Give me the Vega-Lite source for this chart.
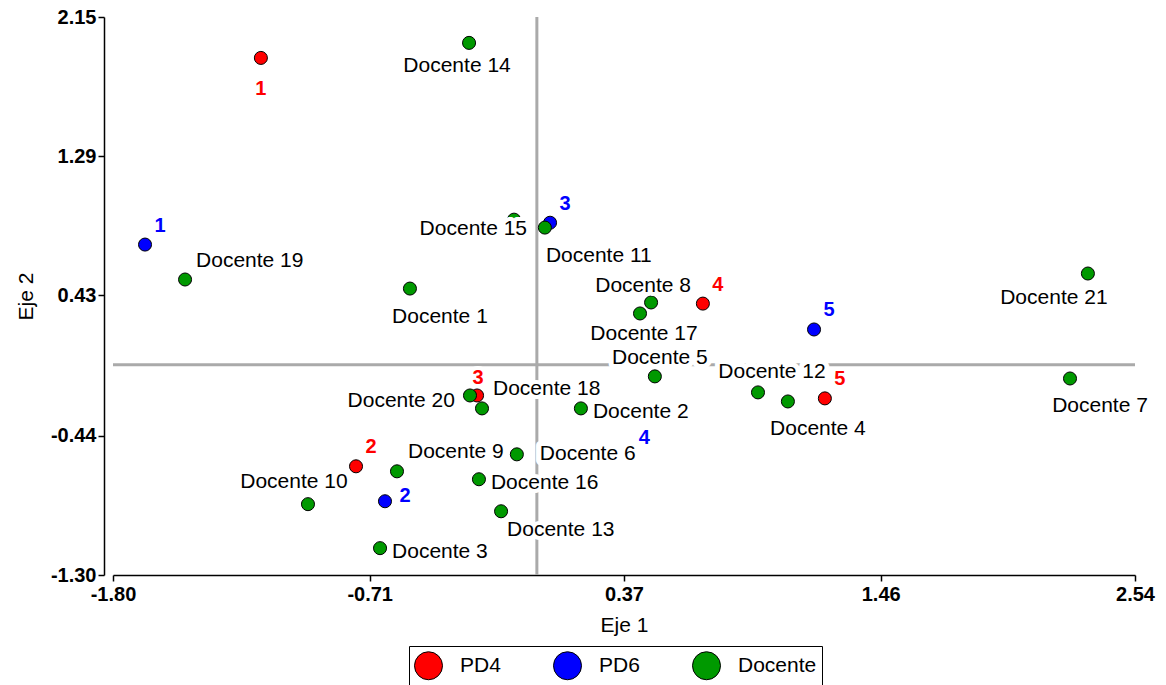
{
  "$schema": "https://vega.github.io/schema/vega-lite/v6.json",
  "autosize": {"type": "none"},
  "width": 1022,
  "height": 558,
  "padding": {"left": 113, "top": 17, "right": 31, "bottom": 110},
  "background": "white",
  "config": {
    "font": "Liberation Sans",
    "view": {"stroke": null},
    "axis": {
      "grid": false,
      "domainColor": "black",
      "domainWidth": 1.5,
      "tickColor": "black",
      "tickWidth": 1.5,
      "tickSize": 6,
      "labelFontSize": 20,
      "labelFontWeight": "bold",
      "labelColor": "black",
      "labelFlush": false,
      "labelOverlap": false,
      "titleFontSize": 21,
      "titleFontWeight": "normal",
      "titleColor": "black",
      "labelExpr": "replace(datum.label, '\u2212', '-')"
    },
    "style": {
      "halo": {"stroke": "white", "strokeWidth": 8, "strokeJoin": "round", "baseline": "middle"},
      "doc": {"fontSize": 21, "baseline": "middle"},
      "num": {"fontSize": 20, "fontWeight": "bold", "baseline": "middle"}
    }
  },
  "data": {
    "values": [
      {"grupo": "PD4", "etiqueta": "1", "x": -1.172, "y": 1.897},
      {"grupo": "PD4", "etiqueta": "2", "x": -0.768, "y": -0.628},
      {"grupo": "PD4", "etiqueta": "3", "x": -0.254, "y": -0.19},
      {"grupo": "PD4", "etiqueta": "4", "x": 0.705, "y": 0.378},
      {"grupo": "PD4", "etiqueta": "5", "x": 1.223, "y": -0.208},
      {"grupo": "PD6", "etiqueta": "1", "x": -1.664, "y": 0.743},
      {"grupo": "PD6", "etiqueta": "2", "x": -0.645, "y": -0.844},
      {"grupo": "PD6", "etiqueta": "3", "x": 0.056, "y": 0.878},
      {"grupo": "PD6", "etiqueta": "4", "x": 0.393, "y": -0.572},
      {"grupo": "PD6", "etiqueta": "5", "x": 1.177, "y": 0.218},
      {"grupo": "Docente", "etiqueta": "Docente 1", "x": -0.539, "y": 0.471},
      {"grupo": "Docente", "etiqueta": "Docente 2", "x": 0.187, "y": -0.27},
      {"grupo": "Docente", "etiqueta": "Docente 3", "x": -0.666, "y": -1.134},
      {"grupo": "Docente", "etiqueta": "Docente 4", "x": 1.066, "y": -0.227},
      {"grupo": "Docente", "etiqueta": "Docente 5", "x": 0.501, "y": -0.072},
      {"grupo": "Docente", "etiqueta": "Docente 6", "x": -0.085, "y": -0.554},
      {"grupo": "Docente", "etiqueta": "Docente 7", "x": 2.264, "y": -0.085},
      {"grupo": "Docente", "etiqueta": "Docente 8", "x": 0.485, "y": 0.385},
      {"grupo": "Docente", "etiqueta": "Docente 9", "x": -0.594, "y": -0.659},
      {"grupo": "Docente", "etiqueta": "Docente 10", "x": -0.972, "y": -0.862},
      {"grupo": "Docente", "etiqueta": "Docente 11", "x": 0.034, "y": 0.848},
      {"grupo": "Docente", "etiqueta": "Docente 12", "x": 0.939, "y": -0.171},
      {"grupo": "Docente", "etiqueta": "Docente 13", "x": -0.152, "y": -0.906},
      {"grupo": "Docente", "etiqueta": "Docente 14", "x": -0.288, "y": 1.99},
      {"grupo": "Docente", "etiqueta": "Docente 15", "x": -0.097, "y": 0.897},
      {"grupo": "Docente", "etiqueta": "Docente 16", "x": -0.246, "y": -0.708},
      {"grupo": "Docente", "etiqueta": "Docente 17", "x": 0.438, "y": 0.317},
      {"grupo": "Docente", "etiqueta": "Docente 18", "x": -0.233, "y": -0.27},
      {"grupo": "Docente", "etiqueta": "Docente 19", "x": -1.494, "y": 0.527},
      {"grupo": "Docente", "etiqueta": "Docente 20", "x": -0.284, "y": -0.19},
      {"grupo": "Docente", "etiqueta": "Docente 21", "x": 2.34, "y": 0.564}
    ]
  },
  "layer": [
    {
      "data": {"values": [{}]},
      "mark": {"type": "rule", "color": "#aaaaaa", "strokeWidth": 3},
      "encoding": {"x": {"datum": 0, "type": "quantitative", "scale": {"domain": [-1.8, 2.54], "nice": false, "zero": false},
                         "axis": {"title": "Eje 1", "values": [-1.8, -0.71, 0.37, 1.46, 2.54], "format": ".2f", "labelPadding": 3, "titlePadding": 10}}}
    },
    {
      "data": {"values": [{}]},
      "mark": {"type": "rule", "color": "#aaaaaa", "strokeWidth": 3},
      "encoding": {"y": {"datum": 0, "type": "quantitative", "scale": {"domain": [-1.3, 2.15], "nice": false, "zero": false},
                         "axis": {"title": "Eje 2", "values": [-1.3, -0.44, 0.43, 1.29, 2.15], "format": ".2f", "offset": 9, "labelPadding": 2, "titlePadding": 14}}}
    },
    {
      "encoding": {
        "x": {"field": "x", "type": "quantitative", "scale": {"domain": [-1.8, 2.54], "nice": false, "zero": false},
              "axis": {"title": "Eje 1", "values": [-1.8, -0.71, 0.37, 1.46, 2.54], "format": ".2f", "labelPadding": 3, "titlePadding": 10}},
        "y": {"field": "y", "type": "quantitative", "scale": {"domain": [-1.3, 2.15], "nice": false, "zero": false},
              "axis": {"title": "Eje 2", "values": [-1.3, -0.44, 0.43, 1.29, 2.15], "format": ".2f", "offset": 9, "labelPadding": 2, "titlePadding": 14}}
      },
      "layer": [
        {
          "mark": {"type": "circle", "size": 170, "opacity": 1, "stroke": "black", "strokeWidth": 1},
          "encoding": {
            "color": {"field": "grupo", "type": "nominal",
                      "scale": {"domain": ["PD4", "PD6", "Docente"], "range": ["#ff0000", "#0000ff", "#009900"]},
                      "legend": {"title": null, "orient": "none", "legendX": 296, "legendY": 629, "direction": "horizontal",
                                 "symbolType": "circle", "symbolSize": 784, "symbolStrokeColor": "black", "symbolStrokeWidth": 1,
                                 "symbolOpacity": 1, "labelFontSize": 21, "labelColor": "black", "labelOffset": 17,
                                 "columnPadding": 50, "padding": 5, "strokeColor": "black", "fillColor": "white"}}
          }
        },
        {
          "transform": [{"filter": "datum.grupo != 'Docente'"}],
          "encoding": {
            "text": {"field": "etiqueta"},
            "color": {"condition": {"test": "datum.grupo == 'PD4'", "value": "#ff0000"}, "value": "#0000ff"}
          },
          "layer": [
            {"transform": [{"filter": "(datum.grupo == 'PD4' && indexof(['2','4','5'], datum.etiqueta) >= 0) || (datum.grupo == 'PD6' && indexof(['1','3','4','5'], datum.etiqueta) >= 0)"}],
             "layer": [
               {"mark": {"type": "text", "style": "halo", "fontSize": 20, "fontWeight": "bold", "dx": 15, "dy": -19}},
               {"mark": {"type": "text", "style": "num", "dx": 15, "dy": -19}}
             ]},
            {"transform": [{"filter": "datum.grupo == 'PD4' && datum.etiqueta == '1'"}],
             "layer": [
               {"mark": {"type": "text", "style": "halo", "fontSize": 20, "fontWeight": "bold", "dx": 0, "dy": 31}},
               {"mark": {"type": "text", "style": "num", "dx": 0, "dy": 31}}
             ]},
            {"transform": [{"filter": "datum.grupo == 'PD4' && datum.etiqueta == '3'"}],
             "layer": [
               {"mark": {"type": "text", "style": "halo", "fontSize": 20, "fontWeight": "bold", "dx": 1, "dy": -17}},
               {"mark": {"type": "text", "style": "num", "dx": 1, "dy": -17}}
             ]},
            {"transform": [{"filter": "datum.grupo == 'PD6' && datum.etiqueta == '2'"}],
             "layer": [
               {"mark": {"type": "text", "style": "halo", "fontSize": 20, "fontWeight": "bold", "dx": 20, "dy": -5}},
               {"mark": {"type": "text", "style": "num", "dx": 20, "dy": -5}}
             ]}
          ]
        },
        {
          "transform": [{"filter": "datum.grupo == 'Docente'"}],
          "encoding": {"text": {"field": "etiqueta"}},
          "layer": [
            {"transform": [{"filter": {"field": "etiqueta", "oneOf": ["Docente 19", "Docente 18", "Docente 9"]}}],
             "layer": [
               {"mark": {"type": "text", "style": "halo", "fontSize": 21, "align": "left", "dx": 11, "dy": -19}},
               {"mark": {"type": "text", "style": "doc", "color": "black", "align": "left", "dx": 11, "dy": -19}}
             ]},
            {"transform": [{"filter": {"field": "etiqueta", "oneOf": ["Docente 2", "Docente 16", "Docente 3"]}}],
             "layer": [
               {"mark": {"type": "text", "style": "halo", "fontSize": 21, "align": "left", "dx": 12, "dy": 4}},
               {"mark": {"type": "text", "style": "doc", "color": "black", "align": "left", "dx": 12, "dy": 4}}
             ]},
            {"transform": [{"filter": {"field": "etiqueta", "oneOf": ["Docente 6"]}}],
             "layer": [
               {"mark": {"type": "text", "style": "halo", "strokeWidth": 11, "fontSize": 21, "align": "left", "dx": 23, "dy": 0}},
               {"mark": {"type": "text", "style": "doc", "color": "black", "align": "left", "dx": 23, "dy": 0}}
             ]},
            {"transform": [{"filter": {"field": "etiqueta", "oneOf": ["Docente 11"]}}],
             "layer": [
               {"mark": {"type": "text", "style": "halo", "fontSize": 21, "align": "left", "dx": 1, "dy": 28}},
               {"mark": {"type": "text", "style": "doc", "color": "black", "align": "left", "dx": 1, "dy": 28}}
             ]},
            {"transform": [{"filter": {"field": "etiqueta", "oneOf": ["Docente 13"]}}],
             "layer": [
               {"mark": {"type": "text", "style": "halo", "fontSize": 21, "align": "left", "dx": 6, "dy": 19}},
               {"mark": {"type": "text", "style": "doc", "color": "black", "align": "left", "dx": 6, "dy": 19}}
             ]},
            {"transform": [{"filter": {"field": "etiqueta", "oneOf": ["Docente 1", "Docente 4", "Docente 7"]}}],
             "layer": [
               {"mark": {"type": "text", "style": "halo", "fontSize": 21, "align": "center", "dx": 30, "dy": 28}},
               {"mark": {"type": "text", "style": "doc", "color": "black", "align": "center", "dx": 30, "dy": 28}}
             ]},
            {"transform": [{"filter": {"field": "etiqueta", "oneOf": ["Docente 5"]}}],
             "layer": [
               {"mark": {"type": "text", "style": "halo", "strokeWidth": 10, "fontSize": 21, "align": "center", "dx": 5, "dy": -18}},
               {"mark": {"type": "text", "style": "doc", "color": "black", "align": "center", "dx": 5, "dy": -18}}
             ]},
            {"transform": [{"filter": {"field": "etiqueta", "oneOf": ["Docente 8"]}}],
             "layer": [
               {"mark": {"type": "text", "style": "halo", "fontSize": 21, "align": "center", "dx": -8, "dy": -16}},
               {"mark": {"type": "text", "style": "doc", "color": "black", "align": "center", "dx": -8, "dy": -16}}
             ]},
            {"transform": [{"filter": {"field": "etiqueta", "oneOf": ["Docente 12"]}}],
             "layer": [
               {"mark": {"type": "text", "style": "halo", "strokeWidth": 10, "fontSize": 21, "align": "center", "dx": 14, "dy": -20}},
               {"mark": {"type": "text", "style": "doc", "color": "black", "align": "center", "dx": 14, "dy": -20}}
             ]},
            {"transform": [{"filter": {"field": "etiqueta", "oneOf": ["Docente 15"]}}],
             "layer": [
               {"mark": {"type": "text", "style": "halo", "fontSize": 21, "align": "right", "dx": 13, "dy": 9}},
               {"mark": {"type": "text", "style": "doc", "color": "black", "align": "right", "dx": 13, "dy": 9}}
             ]},
            {"transform": [{"filter": {"field": "etiqueta", "oneOf": ["Docente 20"]}}],
             "layer": [
               {"mark": {"type": "text", "style": "halo", "fontSize": 21, "align": "right", "dx": -15, "dy": 6}},
               {"mark": {"type": "text", "style": "doc", "color": "black", "align": "right", "dx": -15, "dy": 6}}
             ]},
            {"transform": [{"filter": {"field": "etiqueta", "oneOf": ["Docente 14"]}}],
             "layer": [
               {"mark": {"type": "text", "style": "halo", "fontSize": 21, "align": "center", "dx": -12, "dy": 23}},
               {"mark": {"type": "text", "style": "doc", "color": "black", "align": "center", "dx": -12, "dy": 23}}
             ]},
            {"transform": [{"filter": {"field": "etiqueta", "oneOf": ["Docente 10"]}}],
             "layer": [
               {"mark": {"type": "text", "style": "halo", "fontSize": 21, "align": "center", "dx": -14, "dy": -22}},
               {"mark": {"type": "text", "style": "doc", "color": "black", "align": "center", "dx": -14, "dy": -22}}
             ]},
            {"transform": [{"filter": {"field": "etiqueta", "oneOf": ["Docente 21"]}}],
             "layer": [
               {"mark": {"type": "text", "style": "halo", "fontSize": 21, "align": "center", "dx": -34, "dy": 24}},
               {"mark": {"type": "text", "style": "doc", "color": "black", "align": "center", "dx": -34, "dy": 24}}
             ]},
            {"transform": [{"filter": {"field": "etiqueta", "oneOf": ["Docente 17"]}}],
             "layer": [
               {"mark": {"type": "text", "style": "halo", "fontSize": 21, "align": "center", "dx": 4, "dy": 21}},
               {"mark": {"type": "text", "style": "doc", "color": "black", "align": "center", "dx": 4, "dy": 21}}
             ]}
          ]
        }
      ]
    }
  ]
}
